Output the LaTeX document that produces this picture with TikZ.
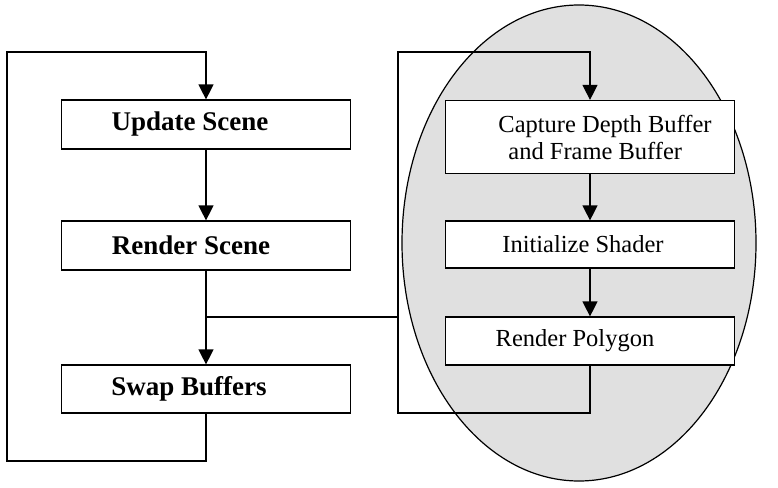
\documentclass[tikz,border=0pt]{standalone}
\usepackage{fontspec}
\setmainfont{Liberation Serif}
\usetikzlibrary{arrows.meta,shapes.geometric,calc}

\tikzset{
  stepbox/.style = {draw, fill=white, line width=1.2pt, minimum width=289pt, inner sep=0pt},
  boldtext/.style = {font=\fontsize{27}{30}\selectfont\bfseries},
  plaintext/.style = {font=\fontsize{24.5}{27}\selectfont},
  flow/.style = {line width=1.2pt, -{Triangle[width=15pt,length=15pt]}},
  wire/.style = {line width=1.2pt}
}

\begin{document}
\begin{tikzpicture}[x=1pt, y=-1pt]
    \useasboundingbox (0,0) rectangle (778,487);

    % Shader region
    \node[ellipse, draw, line width=1.2pt, fill=black!12, minimum width=354pt, minimum height=476pt, inner sep=0pt] (shader) at (579,243) {};

    % Main loop
    \node[stepbox, boldtext, minimum height=49pt] (update) at (206,124.5) {Update Scene\hspace*{32pt}};
    \node[stepbox, boldtext, minimum height=49pt] (render) at (206,245.5) {Render Scene\hspace*{30pt}};
    \node[stepbox, boldtext, minimum height=48pt] (swap) at (206,389) {Swap Buffers\hspace*{34pt}};

    % Shader steps
    \node[stepbox, plaintext, minimum height=73pt, align=left] (capture) at (590,137) {\hspace*{30pt}Capture Depth Buffer\\ \hspace*{40pt}and Frame Buffer};
    \node[stepbox, plaintext, minimum height=47pt] (init) at (590,244.5) {Initialize Shader\hspace*{14pt}};
    \node[stepbox, plaintext, minimum height=48pt] (polygon) at (590,341) {Render Polygon\hspace*{30pt}};

    % Loop corners
    \coordinate (lt) at (7,52);
    \coordinate (lb) at (7,461);
    \coordinate (rt) at (398,52);
    \coordinate (rb) at (398,413);
    \coordinate (split) at (206,317);

    % Main loop connectors
    \draw[flow] (update) -- (render);
    \draw[flow] (render) -- (swap);
    \draw[flow] (swap.south) |- (lb) -- (lt) -| (update.north);

    % Branch into shader loop
    \draw[wire] (split) -- (split -| rt);

    % Shader loop connectors
    \draw[flow] (capture) -- (init);
    \draw[flow] (init) -- (polygon);
    \draw[flow] (polygon.south) |- (rb) -- (rt) -| (capture.north);
\end{tikzpicture}
\end{document}
